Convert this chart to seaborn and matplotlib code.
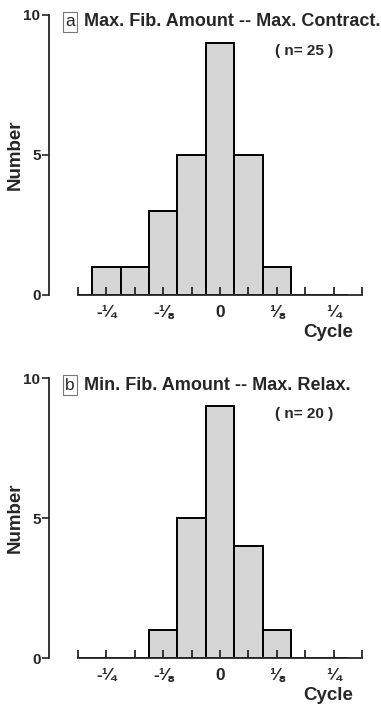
import numpy as np
import pandas as pd
import matplotlib
matplotlib.use("Agg")
import matplotlib.pyplot as plt
import seaborn as sns

# bin centres in cycles (bins are 1/16 cycle wide)
centers_a = [-4/16, -3/16, -2/16, -1/16, 0, 1/16, 2/16]
counts_a = [1, 1, 3, 5, 9, 5, 1]
centers_b = [-2/16, -1/16, 0, 1/16, 2/16]
counts_b = [1, 5, 9, 4, 1]

tick_pos = [-1/4, -1/8, 0, 1/8, 1/4]
tick_labels = ["-¼", "-⅛", "0", "⅛", "¼"]
title_a = "Max. Fib. Amount -- Max. Contract."
title_b = "Min. Fib. Amount -- Max. Relax."
n_a = "( n= 25 )"
n_b = "( n= 20 )"

sns.set_style("ticks")
plt.rcParams['font.family'] = ['Liberation Sans', 'DejaVu Sans']
plt.rcParams['font.weight'] = 'bold'

W, H = 381, 711
fig = plt.figure(figsize=(W/100, H/100), dpi=100)

edges = [(k - 0.5) / 16 for k in range(-5, 6)]
minor = np.arange(-5, 6) / 16


def panel(y0_px, centers, counts, letter, title, ntext):
    # y0_px: pixel row of the x axis (value 0)
    left, right = 78, 362
    ax = fig.add_axes([left / W, (H - y0_px) / H, (right - left) / W, 280 / H])
    df = pd.DataFrame({"cycle": centers, "n": counts})
    sns.histplot(data=df, x="cycle", weights="n", bins=edges, ax=ax,
                 color="#d6d6d6", edgecolor="black", linewidth=1.4, alpha=1)
    ax.set_axisbelow(False)
    ax.xaxis.set_zorder(5)
    ax.set_xlim(-5/16, 5/16)
    ax.set_ylim(0, 10)
    for s in ["top", "right"]:
        ax.spines[s].set_visible(False)
    ax.spines["left"].set_position(("outward", 21))
    ax.spines["left"].set_bounds(0, 10)
    ax.spines["left"].set_linewidth(1.3)
    ax.spines["bottom"].set_linewidth(1.3)
    ax.spines["bottom"].set_zorder(5)

    ax.set_xticks(minor)
    labels = []
    for m in minor:
        lab = ""
        for p, t in zip(tick_pos, tick_labels):
            if abs(m - p) < 1e-9:
                lab = t
        labels.append(lab)
    ax.set_xticklabels(labels, fontsize=12.5, fontweight="bold")
    ax.tick_params(axis="x", direction="in", length=6, width=1.3, pad=7)
    ax.set_yticks([0, 5, 10])
    ax.set_yticklabels(["0", "5", "10"], fontsize=11, fontweight="bold")
    ax.tick_params(axis="y", direction="out", length=5, width=1.2, pad=1)

    ax.set_ylabel("Number", fontsize=13.5, fontweight="bold", labelpad=0)
    ax.yaxis.set_label_coords(-0.19, 0.5)
    ax.set_xlabel("Cycle", fontsize=13.5, fontweight="bold", va="center")
    ax.xaxis.set_label_coords(0.88, -0.135)

    top_px = y0_px - 280
    fig.text(70 / W, (H - top_px - 7) / H, letter, fontsize=12.5, fontweight="normal",
             ha="center", va="center",
             bbox=dict(boxstyle="square,pad=0.15", fc="white", ec="#777777", lw=0.8))
    fig.text(84 / W, (H - top_px - 7) / H, title, fontsize=13, fontweight="bold",
             ha="left", va="center")
    fig.text(304 / W, (H - top_px - 36) / H, ntext, fontsize=11, fontweight="bold",
             ha="center", va="center")
    return ax


panel(295, centers_a, counts_a, "a", title_a, n_a)
panel(658, centers_b, counts_b, "b", title_b, n_b)

fig.savefig("out.png", dpi=100)
